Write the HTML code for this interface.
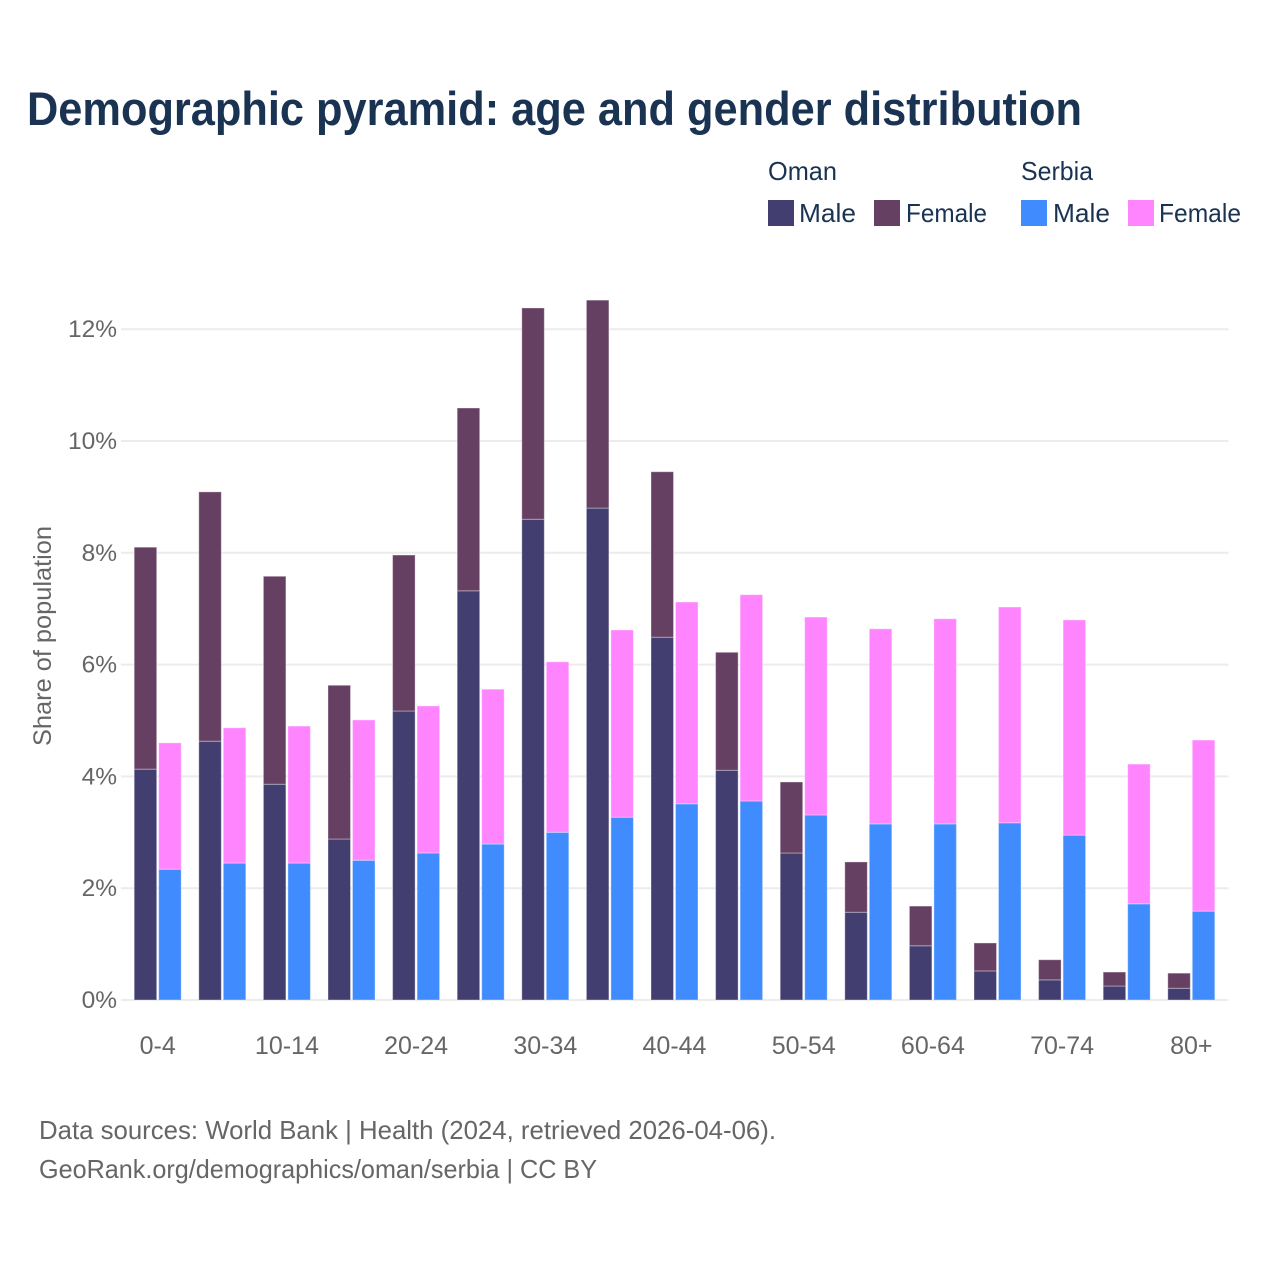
<!DOCTYPE html>
<html lang="en">
<head>
<meta charset="utf-8">
<title>Demographic pyramid</title>
<style>
  html, body { margin: 0; padding: 0; background: #fff; }
  svg { display: block; font-family: "Liberation Sans", sans-serif; }
</style>
</head>
<body>
<svg id="chart" xmlns="http://www.w3.org/2000/svg" width="1280" height="1280" viewBox="0 0 1280 1280">
  <rect width="1280" height="1280" fill="#ffffff"/>
  <text x="27" y="125" font-size="47" font-weight="700" fill="#1a3353" textLength="1055" lengthAdjust="spacingAndGlyphs">Demographic pyramid: age and gender distribution</text>

  <g font-size="26" fill="#1a3353">
    <text x="768" y="180" textLength="69" lengthAdjust="spacingAndGlyphs">Oman</text>
    <text x="1021" y="180" textLength="72" lengthAdjust="spacingAndGlyphs">Serbia</text>
    <rect x="768" y="200" width="26" height="26" fill="#423f70"/>
    <text x="799" y="222" textLength="57" lengthAdjust="spacingAndGlyphs">Male</text>
    <rect x="874" y="200" width="26" height="26" fill="#664062"/>
    <text x="906" y="222" textLength="81" lengthAdjust="spacingAndGlyphs">Female</text>
    <rect x="1021" y="200" width="26" height="26" fill="#408cff"/>
    <text x="1053" y="222" textLength="57" lengthAdjust="spacingAndGlyphs">Male</text>
    <rect x="1128" y="200" width="26" height="26" fill="#ff85ff"/>
    <text x="1159" y="222" textLength="82" lengthAdjust="spacingAndGlyphs">Female</text>
  </g>

  <g id="grid"></g>
  <g id="bars"></g>
  <g id="y-ticks"></g>
  <g id="x-ticks"></g>

  <text transform="translate(51 636) rotate(-90)" text-anchor="middle" font-size="25" fill="#666666" textLength="220" lengthAdjust="spacingAndGlyphs">Share of population</text>

  <text x="39" y="1139" font-size="26" fill="#666666" textLength="737" lengthAdjust="spacingAndGlyphs">Data sources: World Bank | Health (2024, retrieved 2026-04-06).</text>
  <text x="39" y="1178" font-size="26" fill="#666666" textLength="558" lengthAdjust="spacingAndGlyphs">GeoRank.org/demographics/oman/serbia | CC BY</text>
</svg>
<script>
const categories = ["0-4","5-9","10-14","15-19","20-24","25-29","30-34","35-39","40-44","45-49","50-54","55-59","60-64","65-69","70-74","75-79","80+"];
const omanMale = [4.13,4.63,3.86,2.88,5.17,7.32,8.60,8.80,6.49,4.11,2.63,1.57,0.97,0.52,0.36,0.25,0.21];
const omanFemale = [3.97,4.46,3.72,2.75,2.79,3.27,3.78,3.72,2.96,2.11,1.27,0.90,0.71,0.50,0.36,0.25,0.27];
const serbiaMale = [2.34,2.45,2.45,2.50,2.63,2.79,3.00,3.27,3.51,3.56,3.31,3.15,3.15,3.17,2.95,1.72,1.59];
const serbiaFemale = [2.26,2.42,2.45,2.51,2.63,2.77,3.05,3.35,3.61,3.69,3.54,3.49,3.67,3.86,3.85,2.50,3.06];
const yTicks = [0,2,4,6,8,10,12];

const NS = "http://www.w3.org/2000/svg";
const yScale = function (v) { return 1000 - v * 55.9; };
const xScale = function (i) { return 157.7 + i * 64.6; };
const barWidth = 22.5;
const barGap = 2;

const grid = document.getElementById("grid");
const yTickGroup = document.getElementById("y-ticks");
yTicks.forEach(function (t) {
  const line = document.createElementNS(NS, "line");
  
  
  line.setAttribute("x1", 121);
  line.setAttribute("x2", 1228.5);
  line.setAttribute("y1", yScale(t));
  line.setAttribute("y2", yScale(t));
  line.setAttribute("stroke", "#ececec");
  line.setAttribute("stroke-width", 2);
  grid.appendChild(line);

  const label = document.createElementNS(NS, "text");
  
  
  label.setAttribute("x", 117);
  label.setAttribute("y", yScale(t) + 8);
  label.setAttribute("text-anchor", "end");
  label.setAttribute("font-size", 24.5);
  label.setAttribute("fill", "#666666");
  label.textContent = t + "%";
  yTickGroup.appendChild(label);
});

const xTickGroup = document.getElementById("x-ticks");
categories.forEach(function (c, i) {
  if (i % 2 !== 0) return;
  const label = document.createElementNS(NS, "text");
  
  
  label.setAttribute("x", xScale(i));
  label.setAttribute("y", 1054);
  label.setAttribute("text-anchor", "middle");
  label.setAttribute("font-size", 25);
  label.setAttribute("fill", "#666666");
  label.textContent = c;
  xTickGroup.appendChild(label);
});

const bars = document.getElementById("bars");
function drawSegment(x, base, value, fill, name) {
  const rect = document.createElementNS(NS, "rect");
  
  
  rect.setAttribute("x", x);
  rect.setAttribute("y", yScale(base + value));
  rect.setAttribute("width", barWidth);
  rect.setAttribute("height", yScale(base) - yScale(base + value));
  rect.setAttribute("fill", fill);
  rect.setAttribute("stroke", "#ffffff");
  rect.setAttribute("stroke-opacity", "0.35");
  rect.setAttribute("stroke-width", "1");
  bars.appendChild(rect);
}
categories.forEach(function (c, i) {
  const cx = xScale(i);
  const leftX = cx - barGap / 2 - barWidth;
  const rightX = cx + barGap / 2;
  drawSegment(leftX, 0, omanMale[i], "#423f70", "bar-oman-male-" + c);
  drawSegment(leftX, omanMale[i], omanFemale[i], "#664062", "bar-oman-female-" + c);
  drawSegment(rightX, 0, serbiaMale[i], "#408cff", "bar-serbia-male-" + c);
  drawSegment(rightX, serbiaMale[i], serbiaFemale[i], "#ff85ff", "bar-serbia-female-" + c);
});
</script>
</body>
</html>
